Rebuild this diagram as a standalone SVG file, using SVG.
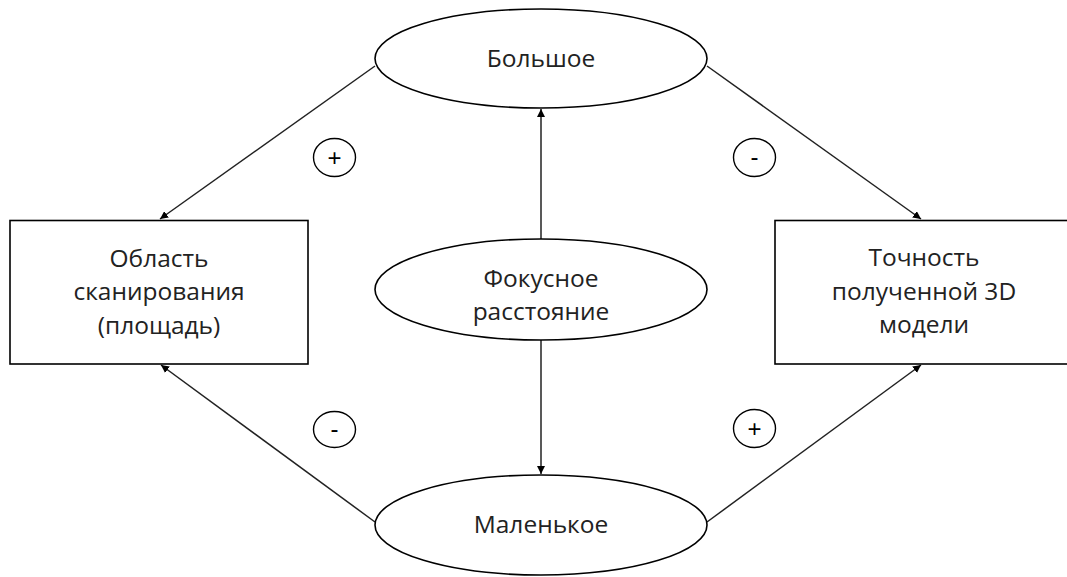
<svg xmlns="http://www.w3.org/2000/svg" width="1067" height="577" viewBox="0 0 1067 577">
<style>
.shape{fill:#fff;stroke:#000;stroke-width:1.6}
.t{font-family:"Open Sans","Liberation Sans",sans-serif;font-size:24.5px;fill:#222;text-anchor:middle}
.s{font-family:"Liberation Sans",sans-serif;font-size:24px;fill:#000;text-anchor:middle}
.c{fill:#fff;stroke:#000;stroke-width:1.4}
.ln{stroke:#222;stroke-width:1.5;fill:none;marker-end:url(#ah)}
</style>
<defs>
<marker id="ah" viewBox="0 0 10 10" refX="10" refY="5" markerWidth="8" markerHeight="8" markerUnits="userSpaceOnUse" orient="auto">
<path d="M0,0 L10,5 L0,10 Z" fill="#000"/>
</marker>
</defs>
<rect width="1067" height="577" fill="#fff"/>
<g id="connectors">
<line class="ln" x1="375" y1="66" x2="160" y2="219"/>
<line class="ln" x1="707" y1="66" x2="921" y2="219"/>
<line class="ln" x1="375" y1="522" x2="161" y2="365"/>
<line class="ln" x1="707" y1="522" x2="921" y2="365"/>
<line class="ln" x1="541" y1="239" x2="541" y2="109"/>
<line class="ln" x1="541" y1="340" x2="541" y2="474"/>
</g>
<g id="n-big">
<ellipse class="shape" cx="541" cy="58.5" rx="166" ry="49.5"/>
<text class="t" x="541" y="67">Большое</text>
</g>
<g id="n-focus">
<ellipse class="shape" cx="541" cy="289.5" rx="166" ry="50.5"/>
<text class="t" x="541" y="287">Фокусное</text>
<text class="t" x="541" y="320">расстояние</text>
</g>
<g id="n-small">
<ellipse class="shape" cx="541" cy="525" rx="166" ry="50"/>
<text class="t" x="541" y="533">Маленькое</text>
</g>
<g id="n-area">
<rect class="shape" x="10" y="220.5" width="298" height="143.5"/>
<text class="t" x="159" y="267">Область</text>
<text class="t" x="159" y="300">сканирования</text>
<text class="t" x="159" y="334">(площадь)</text>
</g>
<g id="n-acc">
<rect class="shape" x="775" y="220.5" width="300" height="143.5"/>
<text class="t" x="924" y="266">Точность</text>
<text class="t" x="924" y="300">полученной 3D</text>
<text class="t" x="924" y="333">модели</text>
</g>
<g id="sign1"><ellipse class="c" cx="334.5" cy="157.5" rx="21" ry="19"/><text class="s" x="334.5" y="166">+</text></g>
<g id="sign2"><ellipse class="c" cx="754.5" cy="157.5" rx="21" ry="19"/><text class="s" x="754.5" y="165">-</text></g>
<g id="sign3"><ellipse class="c" cx="334.5" cy="429.5" rx="21" ry="18"/><text class="s" x="334.5" y="437">-</text></g>
<g id="sign4"><ellipse class="c" cx="754.5" cy="428.5" rx="21" ry="19"/><text class="s" x="754.5" y="437">+</text></g>
</svg>
